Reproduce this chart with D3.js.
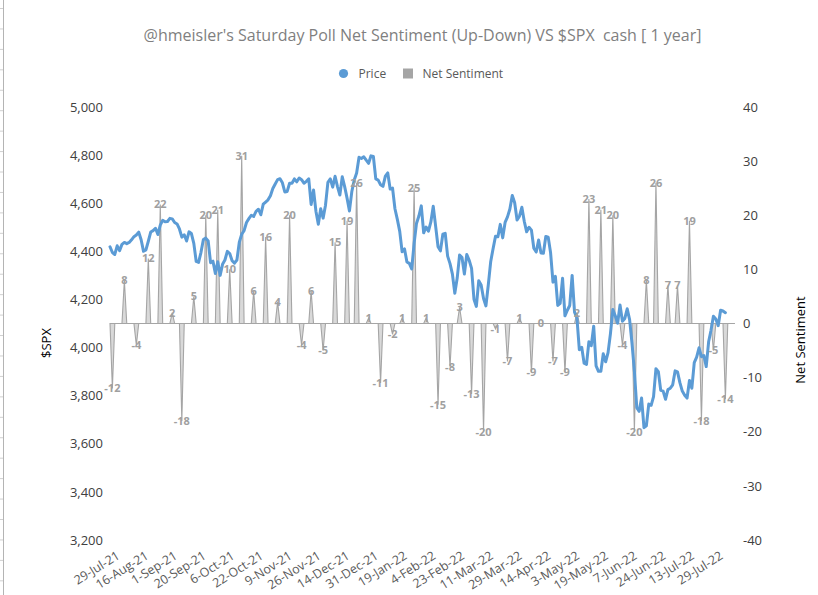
<!DOCTYPE html>
<html>
<head>
<meta charset="utf-8">
<script src="https://cdn.jsdelivr.net/npm/d3@7/dist/d3.min.js"></script>
<style>
  html, body { margin: 0; padding: 0; background: #fff; }
  svg { display: block; }
  text { font-family: "Open Sans", "Segoe UI", sans-serif; }
</style>
</head>
<body>
<svg id="chart" width="818" height="595"></svg>
<script>
// ---------------- DATA ----------------
const chartTitle = "@hmeisler's Saturday Poll Net Sentiment (Up-Down) VS $SPX  cash [ 1 year]";
const firstDay = "2021-07-29";
const lastDay = "2022-08-11";   // category axis runs a few days past the last price
const marketHolidays = ["2021-09-06","2021-11-25","2021-12-24","2022-01-17","2022-02-21",
  "2022-04-15","2022-05-30","2022-06-20","2022-07-04"];

// $SPX daily close, one per trading day from 29-Jul-21 to 5-Aug-22
const price = [
  4419,4395,
  4387,4423,4403,4429,4437,4432,4437,4448,4461,4468,4480,4448,4400,4406,4442,4480,4486,4496,4470,4509,4529,4523,
  4524,4537,4535,4520,4514,4493,4459,4469,4443,4481,4474,4433,4358,4354,4396,4449,4455,4443,4353,4359,4308,
  4357,4300,4346,4364,4400,4391,4361,4351,4364,4438,4471,4486,4520,4536,4550,4545,4566,4575,4552,4596,4605,
  4614,4631,4661,4680,4698,4702,4685,4647,4649,4683,4683,4701,4689,4705,4698,4683,4691,4701,4595,4655,4567,
  4513,4577,4538,4592,4687,4701,4667,4712,4669,4634,4710,4669,4621,4568,4649,4697,4726,4791,4786,4793,4779,4766,
  4797,4794,4701,4696,4677,4670,4713,4726,4659,4663,4577,4533,4483,4398,4410,4356,4350,4327,4432,4516,
  4547,4589,4477,4501,4484,4522,4587,4504,4419,4402,4471,4475,4380,4349,4305,4226,4289,4385,4374,
  4306,4387,4363,4329,4201,4171,4278,4260,4204,4173,4262,4358,4412,4463,4461,4512,4456,4520,4543,4576,4632,4602,4530,
  4546,4583,4525,4481,4500,4488,4413,4397,4447,4393,4392,4462,4459,4394,4272,4296,4175,4184,4288,4132,
  4155,4175,4300,4147,4123,3991,4001,3935,3930,4024,4008,4089,3924,3901,3901,3974,3941,3979,4058,4158,4132,
  4101,4177,4109,4121,4161,4116,4018,3901,3750,3735,3790,3667,3675,3765,3760,3796,3912,3900,3822,3819,3785,
  3825,3831,3845,3903,3899,3854,3819,3802,3790,3863,3831,3937,3960,3999,3962,3967,3921,4024,4072,4130,
  4119,4091,4155,4152,4145
];

// Weekly Saturday poll net sentiment (Up-Down), plotted on the last trading day of each week
const sentiment = [
  -12, 8, -4, 12, 22, 2, -18, 5, 20, 21, 10, 31, 6, 16, 4, 20, -4, 6, -5, 15, 19, 26, 1,
  -11, -2, 1, 25, 1, -15, -8, 3, -13, -20, -1, -7, 1, -9, 0, -7, -9, 2, 23, 21, 20, -4,
  -20, 8, 26, 7, 7, 19, -18, -5, -14
];

const leftTicks = [3200, 3400, 3600, 3800, 4000, 4200, 4400, 4600, 4800, 5000];
const rightTicks = [-40, -30, -20, -10, 0, 10, 20, 30, 40];
const labelEvery = 12;

const seriesNames = ["Price", "Net Sentiment"];
const colors = { price: "#5b9bd5", sentFill: "#d9d9d9", sentLine: "#a5a5a5", legendSent: "#a5a5a5" };

// ---------------- BUILD CATEGORIES ----------------
const parse = d3.timeParse("%Y-%m-%d");
const fmtKey = d3.timeFormat("%Y-%m-%d");
const holidaySet = new Set(marketHolidays);
const days = d3.timeDay.range(parse(firstDay), d3.timeDay.offset(parse(lastDay), 1))
  .filter(d => d.getDay() !== 0 && d.getDay() !== 6 && !holidaySet.has(fmtKey(d)));
const cats = days.map(fmtKey);

// poll days = last trading day of each week (within priced range)
const pollIdx = [];
for (let i = 0; i < price.length; i++) {
  const next = days[i + 1];
  if (!next || d3.timeWeek.floor(next).getTime() !== d3.timeWeek.floor(days[i]).getTime()) pollIdx.push(i);
}
const sentSeries = cats.map(() => 0);
const sentPoints = [];
sentiment.forEach((v, k) => { sentSeries[pollIdx[k]] = v; sentPoints.push({ i: pollIdx[k], v }); });

// ---------------- SCALES ----------------
const svg = d3.select("#chart");
const x = d3.scalePoint().domain(cats).range([110, 110 + (cats.length - 1) * 2.3945]);
const yL = d3.scaleLinear().domain([3200, 5000]).range([540, 107]);
const yR = d3.scaleLinear().domain([-40, 40]).range([540, 107]);

// spreadsheet edge line at far left
svg.append("line").attr("x1", 3.5).attr("x2", 3.5).attr("y1", 0).attr("y2", 595)
  .attr("stroke", "#b4b4b4").attr("stroke-width", 1);
svg.append("g").selectAll("line").data(d3.range(0, 29)).join("line")
  .attr("x1", 0).attr("x2", 3).attr("y1", d => 8.5 + d * 20.44).attr("y2", d => 8.5 + d * 20.44)
  .attr("stroke", "#d0d0d0");

// title
svg.append("text").attr("x", 422.5).attr("y", 41).attr("text-anchor", "middle")
  .attr("xml:space", "preserve").style("white-space", "pre")
  .attr("font-size", 16).attr("fill", "#7f7f7f").text(chartTitle);

// legend
const lg = svg.append("g").attr("font-size", 12).attr("fill", "#595959");
lg.append("circle").attr("cx", 343.5).attr("cy", 73.5).attr("r", 4.6).attr("fill", colors.price);
lg.append("text").attr("x", 358.5).attr("y", 77.8).text(seriesNames[0]);
lg.append("rect").attr("x", 403).attr("y", 68.5).attr("width", 10).attr("height", 10).attr("fill", colors.legendSent);
lg.append("text").attr("x", 422.5).attr("y", 77.8).text(seriesNames[1]);

// left axis
const axL = svg.append("g").attr("transform", "translate(103,0)")
  .call(d3.axisLeft(yL).tickValues(leftTicks).tickFormat(d3.format(",")).tickSize(0).tickPadding(0));
axL.select(".domain").remove();
axL.selectAll("text").attr("font-size", 13).attr("fill", "#404040").attr("font-family", "Open Sans");

// right axis (plain hyphen minus, as in the source)
const axR = svg.append("g").attr("transform", "translate(743,0)")
  .call(d3.axisRight(yR).tickValues(rightTicks).tickSize(0).tickPadding(0).tickFormat(d => String(d)));
axR.select(".domain").remove();
axR.selectAll("text").attr("font-size", 13).attr("fill", "#404040").attr("font-family", "Open Sans");

// axis titles
svg.append("text").attr("transform", "translate(50.5,343) rotate(-90)").attr("text-anchor", "middle")
  .attr("font-size", 13).attr("fill", "#000").text("$SPX");
svg.append("text").attr("transform", "translate(805,340) rotate(-90)").attr("text-anchor", "middle")
  .attr("font-size", 13).attr("fill", "#000").text("Net Sentiment");

// x axis labels (category axis, every 12th trading day)
const fmtLabel = d3.timeFormat("%-d-%b-%y");
const tickCats = cats.filter((c, i) => i % labelEvery === 0 && i < price.length);
const axX = svg.append("g").attr("transform", "translate(0,548)")
  .call(d3.axisBottom(x).tickValues(tickCats).tickSize(0).tickPadding(0).tickFormat(c => fmtLabel(parse(c))));
axX.select(".domain").remove();
axX.selectAll("text")
  .attr("font-size", 12.5).attr("fill", "#595959").attr("font-family", "Lato, 'Open Sans', sans-serif")
  .attr("text-anchor", "end").attr("dy", 0).attr("y", 0)
  .attr("transform", "translate(10,10) rotate(-32)");

// sentiment area
const area = d3.area()
  .x((d, i) => x(cats[i]))
  .y0(yR(0))
  .y1(d => yR(d));
svg.append("path").datum(sentSeries).attr("d", area)
  .attr("fill", colors.sentFill).attr("stroke", colors.sentLine).attr("stroke-width", 1.1)
  .attr("stroke-linejoin", "miter");

// price line
const line = d3.line().x((d, i) => x(cats[i])).y(d => yL(d));
svg.append("path").datum(price).attr("d", line)
  .attr("fill", "none").attr("stroke", colors.price).attr("stroke-width", 3)
  .attr("stroke-linejoin", "round").attr("stroke-linecap", "round");

// sentiment data labels
svg.append("g").selectAll("text").data(sentPoints).join("text")
  .attr("x", d => x(cats[d.i]))
  .attr("y", d => yR(d.v))
  .attr("dy", "0.35em")
  .attr("text-anchor", "middle")
  .attr("font-size", 11).attr("font-weight", 700).attr("fill", "#a0a0a0")
  .text(d => d.v);
</script>
</body>
</html>
